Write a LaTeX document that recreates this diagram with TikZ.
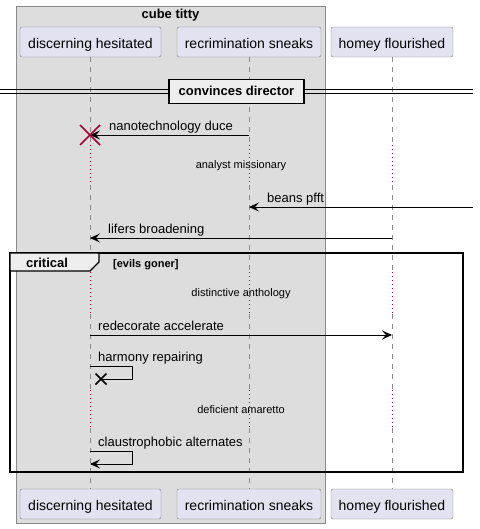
\documentclass[tikz,border=0pt]{standalone}
\usepackage{fontspec}
\setmainfont{Liberation Sans}
\usetikzlibrary{arrows.meta}
\definecolor{pfill}{HTML}{E2E2F0}
\definecolor{pdraw}{HTML}{7F7F7F}
\definecolor{gfill}{HTML}{DDDDDD}
\definecolor{gdraw}{HTML}{8A8A8A}
\definecolor{lline}{HTML}{8A8A8A}
\definecolor{dred}{HTML}{A80036}
\definecolor{tabfill}{HTML}{EEEEEE}
\tikzset{
  part/.style={draw=pdraw, fill=pfill, rounded corners=2pt, minimum height=30pt, inner sep=0pt, text height=12.5pt, text depth=0pt, font=\fontsize{14}{16}\selectfont},
  life/.style={draw=lline, dash pattern=on 5pt off 5pt, line width=0.8pt},
  delayline/.style={draw=dred, dash pattern=on 1pt off 3pt, line width=0.9pt},
  msg/.style={draw=black, line width=0.9pt},
  arr/.style={-{Stealth[length=10pt,width=9pt,inset=4pt]}},
  mlabel/.style={anchor=base west, inner sep=0pt, font=\fontsize{13}{15}\selectfont},
  dlabel/.style={inner sep=0pt, font=\fontsize{11}{13}\selectfont},
}
\begin{document}
\begin{tikzpicture}[x=1pt,y=-1pt]
\useasboundingbox (0,0) rectangle (479,529);
% group box
\draw[draw=gdraw, fill=gfill, line width=0.8pt] (16,6) rectangle (325,523);
\node[font=\bfseries\fontsize{13}{15}\selectfont, inner sep=0pt] (gtitle) at (170.5,15.5) {cube titty};
% lifelines
\foreach \x/\n in {90/a,249/b,392/c}{
  \draw[life] (\x,57) -- (\x,145);
  \draw[delayline] (\x,145) -- (\x,185);
  \draw[life] (\x,185) -- (\x,272);
  \draw[delayline] (\x,272) -- (\x,314);
  \draw[life] (\x,314) -- (\x,390);
  \draw[delayline] (\x,390) -- (\x,428);
  \draw[life] (\x,428) -- (\x,489);
}
% participants
\node[part, minimum width=141pt] (dh) at (90.5,42) {discerning hesitated};
\node[part, minimum width=144pt] (rs) at (249,42) {recrimination sneaks};
\node[part, minimum width=122pt] (hf) at (392,42) {homey flourished};
\node[part, minimum width=141pt] (dh2) at (90.5,504) {discerning hesitated};
\node[part, minimum width=144pt] (rs2) at (249,504) {recrimination sneaks};
\node[part, minimum width=122pt] (hf2) at (392,504) {homey flourished};
% divider
\coordinate (divl) at (0,90);
\coordinate (divr) at (473,90);
\coordinate (divl2) at (0,93.5);
\coordinate (divr2) at (473,93.5);
\draw[draw=black, line width=1pt] (divl) -- (divr) (divl2) -- (divr2);
\node[draw=black, line width=1.5pt, fill=tabfill, minimum width=135pt, minimum height=24pt, inner sep=0pt, text height=7.5pt, text depth=0pt, font=\bfseries\fontsize{13}{15}\selectfont] (div) at (236.5,91.5) {convinces director};
% message 1
\coordinate (m1s) at (249,135);
\coordinate (m1e) at (90,135);
\draw[msg, arr] (m1s) -- (m1e);
\node[mlabel] (l1) at (109,130.5) {nanotechnology duce};
\draw[dred, line width=1.6pt] (80,125) -- (100,145) (80,145) -- (100,125);
% delay 1
\node[dlabel] (d1) at (241,166) {analyst missionary};
% message 2
\coordinate (m2s) at (473,207);
\coordinate (m2e) at (249,207);
\draw[msg, arr] (m2s) -- (m2e);
\node[mlabel] (l2) at (267,202.5) {beans pfft};
% message 3
\coordinate (m3s) at (392,238);
\coordinate (m3e) at (90,238);
\draw[msg, arr] (m3s) -- (m3e);
\node[mlabel] (l3) at (108,233.5) {lifers broadening};
% critical frame
\draw[black, line width=1.5pt] (10,253) rectangle (463,472);
\draw[black, line width=1.1pt, fill=tabfill] (10,253) -- (99,253) -- (99,262) -- (90,271) -- (10,271) -- cycle;
\node[font=\bfseries\fontsize{13}{15}\selectfont, inner sep=0pt, anchor=base] (crit) at (47,267) {critical};
\node[font=\bfseries\fontsize{11}{13}\selectfont, inner sep=0pt, anchor=base west] (guard) at (113,267) {[evils goner]};
% delay 2
\node[dlabel] (d2) at (241,294) {distinctive anthology};
% message 4
\coordinate (m4s) at (90,335);
\coordinate (m4e) at (392,335);
\draw[msg, arr] (m4s) -- (m4e);
\node[mlabel] (l4) at (98,330.5) {redecorate accelerate};
% message 5 self, lost
\coordinate (m5s) at (90,366);
\coordinate (m5e) at (101,379);
\draw[msg] (m5s) -- (132,366) -- (132,379) -- (m5e);
\node[mlabel] (l5) at (98,361.5) {harmony repairing};
\draw[black, line width=1.6pt] (95.5,373.5) -- (106.5,384.5) (95.5,384.5) -- (106.5,373.5);
% delay 3
\node[dlabel] (d3) at (241,410) {deficient amaretto};
% message 6 self
\coordinate (m6s) at (90,451);
\coordinate (m6e) at (90,464);
\draw[msg, arr] (m6s) -- (132,451) -- (132,464) -- (m6e);
\node[mlabel] (l6) at (98,446.5) {claustrophobic alternates};
\end{tikzpicture}
\end{document}
